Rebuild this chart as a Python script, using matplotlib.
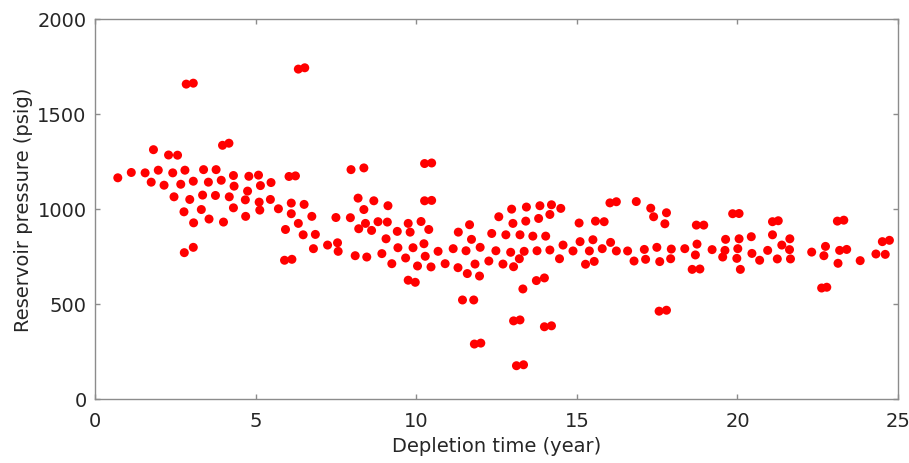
import matplotlib
matplotlib.use("Agg")
import matplotlib.pyplot as plt
import numpy as np

# depletion time (year) and reservoir pressure (psig)
time_yr = np.array([
    0.71, 1.13, 1.56, 1.75, 1.82, 1.97, 2.15, 2.29, 2.42, 2.46, 2.57, 2.67,
    2.77, 2.80, 2.78, 2.84, 2.95, 3.06, 3.06, 3.07, 3.06, 3.31, 3.35, 3.38,
    3.53, 3.55, 3.77, 3.75, 3.93, 3.97, 4.00, 4.17, 4.18, 4.31, 4.33, 4.31,
    4.69, 4.68, 4.75, 4.79, 5.09, 5.11, 5.15, 5.13, 5.46, 5.48, 5.71, 5.93,
    5.90, 6.04, 6.11, 6.11, 6.13, 6.24, 6.33, 6.33, 6.53, 6.48, 6.51, 6.75,
    6.80, 6.86, 7.24, 7.50, 7.55, 7.57, 7.97, 7.95, 8.10, 8.19, 8.21, 8.37,
    8.37, 8.42, 8.46, 8.61, 8.68, 8.81, 8.93, 9.06, 9.10, 9.12, 9.24, 9.41,
    9.43, 9.67, 9.75, 9.81, 9.75, 9.97, 9.90, 10.04, 10.15, 10.24, 10.28, 10.26,
    10.48, 10.26, 10.48, 10.39, 10.46, 10.68, 10.90, 11.15, 11.30, 11.31, 11.44, 11.55,
    11.59, 11.66, 11.72, 11.79, 11.83, 11.81, 12.01, 11.97, 11.99, 12.26, 12.35, 12.48,
    12.57, 12.70, 12.79, 12.94, 12.97, 13.03, 13.01, 13.03, 13.23, 13.12, 13.34, 13.21,
    13.23, 13.32, 13.36, 13.41, 13.43, 13.63, 13.74, 13.76, 13.81, 13.85, 13.99, 13.99,
    14.21, 14.03, 14.16, 14.16, 14.21, 14.46, 14.50, 14.57, 14.88, 15.07, 15.10, 15.27,
    15.39, 15.50, 15.54, 15.58, 15.79, 15.85, 16.03, 16.05, 16.23, 16.23, 16.58, 16.78,
    16.85, 17.10, 17.14, 17.30, 17.39, 17.49, 17.58, 17.56, 17.79, 17.74, 17.79, 17.92,
    17.94, 18.36, 18.59, 18.69, 18.74, 18.72, 18.83, 18.95, 19.21, 19.54, 19.61, 19.63,
    19.85, 19.98, 20.01, 20.05, 20.05, 20.09, 20.43, 20.45, 20.69, 20.94, 21.09, 21.09,
    21.24, 21.27, 21.38, 21.62, 21.63, 21.65, 22.31, 22.62, 22.78, 22.69, 22.74, 23.11,
    23.31, 23.13, 23.18, 23.40, 23.82, 24.31, 24.51, 24.60, 24.73,
])
pressure_psig = np.array([
    1164, 1192, 1190, 1141, 1312, 1204, 1125, 1284, 1190, 1064, 1283, 1130,
    985, 1204, 770, 1657, 1050, 1662, 1146, 927, 798, 997, 1073, 1207,
    1141, 947, 1207, 1071, 1151, 1335, 931, 1346, 1064, 1176, 1120, 1006,
    961, 1048, 1094, 1172, 1178, 1036, 1123, 994, 1050, 1139, 1001, 892,
    730, 1171, 1031, 975, 735, 1174, 924, 1736, 1743, 864, 1024, 961,
    791, 866, 810, 955, 822, 777, 1207, 954, 754, 1057, 896, 1216,
    997, 924, 747, 887, 1043, 933, 765, 843, 931, 1017, 712, 882,
    796, 742, 924, 878, 625, 614, 796, 700, 934, 817, 751, 1239,
    1242, 1043, 1045, 892, 695, 777, 712, 791, 691, 878, 521, 780,
    660, 917, 840, 521, 710, 289, 294, 647, 798, 726, 871, 780,
    959, 710, 864, 772, 999, 696, 924, 411, 416, 175, 180, 738,
    864, 579, 777, 936, 1010, 857, 623, 780, 950, 1017, 637, 380,
    385, 857, 784, 971, 1022, 738, 1003, 810, 779, 926, 828, 709,
    779, 838, 724, 936, 791, 933, 1032, 824, 1038, 779, 779, 726,
    1039, 787, 735, 1004, 959, 798, 723, 462, 467, 922, 980, 738,
    789, 791, 682, 758, 815, 915, 684, 915, 786, 747, 782, 840,
    975, 740, 791, 843, 976, 682, 854, 766, 730, 782, 933, 864,
    737, 938, 810, 786, 843, 737, 773, 584, 588, 754, 803, 936,
    941, 714, 782, 787, 728, 763, 828, 761, 835,
])

x_ticks = [0, 5, 10, 15, 20, 25]
y_ticks = [0, 500, 1000, 1500, 2000]

plt.rcParams['font.family'] = ['DejaVu Sans']

fig = plt.figure(figsize=(9.09, 4.64), dpi=100)
ax = fig.add_axes([0.1045, 0.138, 0.8835, 0.819])

ax.scatter(time_yr, pressure_psig, s=42, color='#ff0000', edgecolors='none', zorder=3)

ax.set_xlim(0, 25)
ax.set_ylim(0, 2000)
ax.set_xticks(x_ticks)
ax.set_yticks(y_ticks)

frame = '#8c8c8c'
for sp in ax.spines.values():
    sp.set_color(frame)
    sp.set_linewidth(1.0)
ax.tick_params(direction='in', top=True, right=True, length=3.5, width=1.0,
               color=frame, labelcolor='#262626', labelsize=14)
ax.tick_params(axis='x', pad=9)
ax.tick_params(axis='y', pad=6)

ax.set_xlabel('Depletion time (year)', fontsize=14, color='#262626', labelpad=4)
ax.set_ylabel('Reservoir pressure (psig)', fontsize=14, color='#262626', labelpad=3)

fig.savefig('out.png', dpi=100)
